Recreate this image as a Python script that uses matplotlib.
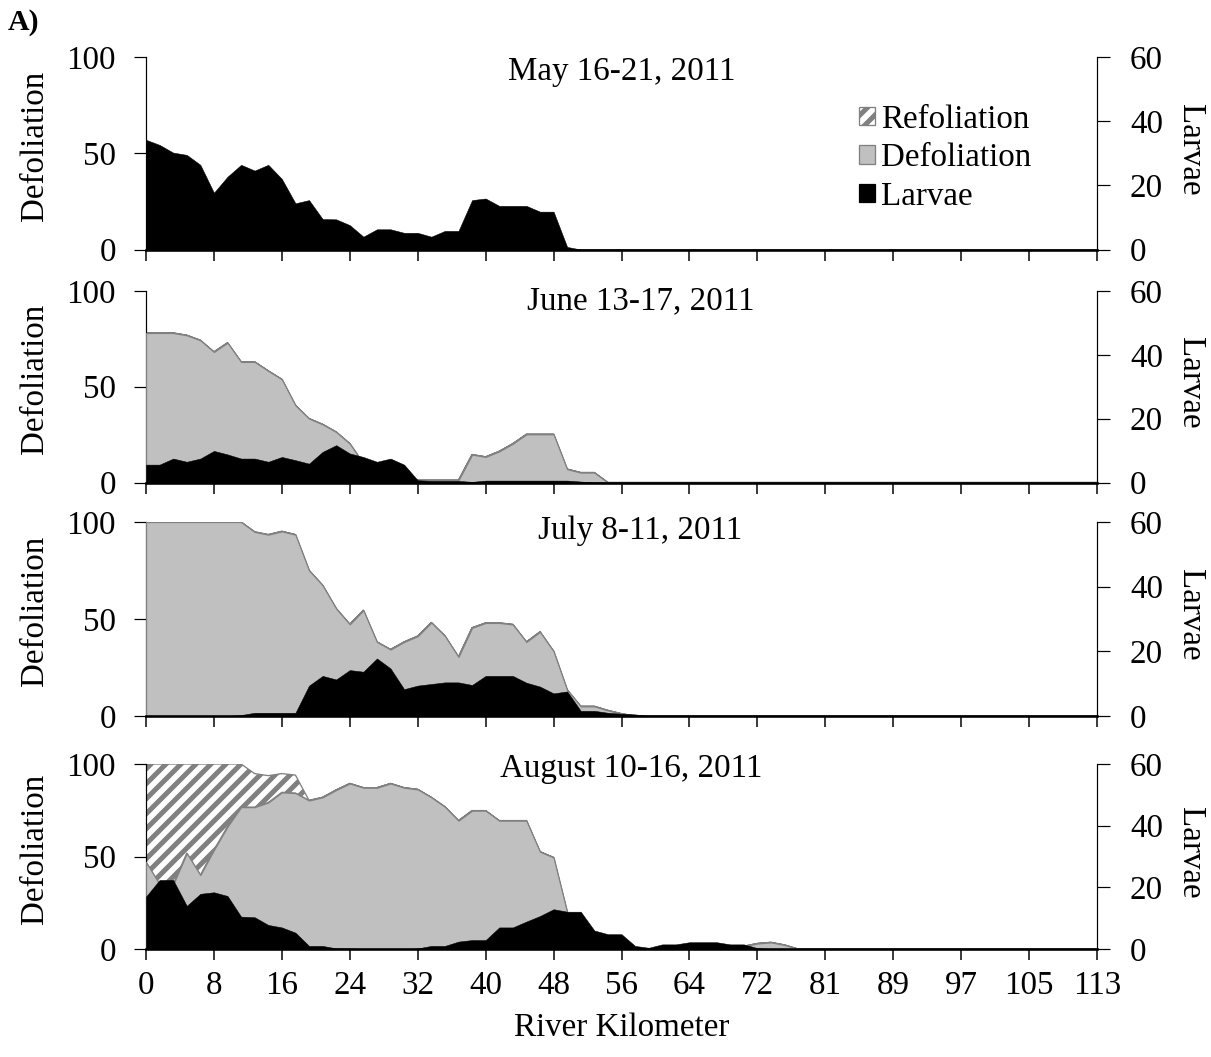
import matplotlib
matplotlib.use("Agg")
import matplotlib.pyplot as plt
import matplotlib.patches as mpatches

DPI = 90
W, H = 1211, 1057


def px(v):
    """Convert a size in output pixels to points."""
    return v * 72.0 / DPI


plt.rcParams["font.family"] = ["Liberation Serif", "DejaVu Serif"]
plt.rcParams["hatch.color"] = "#808080"
plt.rcParams["hatch.linewidth"] = px(5)

# ---- data: one survey point per river mile (0-70), labelled in kilometres ----
station = list(range(71))
tick_pos = [0, 5, 10, 15, 20, 25, 30, 35, 40, 45, 50, 55, 60, 65, 70]
tick_km = ["0", "8", "16", "24", "32", "40", "48", "56", "64", "72",
           "81", "89", "97", "105", "113"]

titles = ["May 16-21, 2011", "June 13-17, 2011", "July 8-11, 2011",
          "August 10-16, 2011"]

defol_may = [0] * 71
refol_may = [0] * 71
larvae_may = [34.2, 32.6, 30.2, 29.5, 26.4, 17.7, 22.7, 26.4, 24.6, 26.4,
              22.0, 14.4, 15.4, 9.5, 9.4, 7.6, 4.0, 6.3, 6.3, 5.2,
              5.2, 4.0, 5.8, 5.8, 15.4, 15.9, 13.6, 13.6, 13.6, 11.8,
              11.8, 0.8, 0, 0, 0, 0, 0, 0, 0, 0,
              0, 0, 0, 0, 0, 0, 0, 0, 0, 0,
              0, 0, 0, 0, 0, 0, 0, 0, 0, 0,
              0, 0, 0, 0, 0, 0, 0, 0, 0, 0, 0]

defol_jun = [78.1, 78.1, 78.1, 76.9, 74.3, 68.2, 73.0, 63.0, 63.0, 58.3,
             53.9, 40.3, 33.4, 30.4, 26.4, 20.3, 10.0, 5.0, 3.0, 2.0,
             1.2, 1.2, 1.2, 1.2, 14.6, 13.4, 16.3, 20.3, 25.2, 25.2,
             25.2, 7.0, 5.2, 5.2, 0, 0, 0, 0, 0, 0,
             0, 0, 0, 0, 0, 0, 0, 0, 0, 0,
             0, 0, 0, 0, 0, 0, 0, 0, 0, 0,
             0, 0, 0, 0, 0, 0, 0, 0, 0, 0, 0]
refol_jun = [0] * 71
larvae_jun = [5.6, 5.6, 7.5, 6.5, 7.5, 9.9, 8.8, 7.5, 7.5, 6.5,
              8.0, 7.0, 5.9, 9.6, 11.7, 9.1, 8.0, 6.5, 7.5, 5.6,
              0.7, 0.5, 0.5, 0.5, 0.2, 0.6, 0.6, 0.6, 0.6, 0.6,
              0.6, 0.6, 0.3, 0, 0, 0, 0, 0, 0, 0,
              0, 0, 0, 0, 0, 0, 0, 0, 0, 0,
              0, 0, 0, 0, 0, 0, 0, 0, 0, 0,
              0, 0, 0, 0, 0, 0, 0, 0, 0, 0, 0]

defol_jul = [100, 100, 100, 100, 100, 100, 100, 100, 94.9, 93.5,
             95.2, 93.5, 75.1, 67.4, 55.4, 47.3, 54.5, 38.2, 34.3, 38.2,
             41.2, 48.2, 41.3, 30.5, 45.5, 48.0, 48.0, 47.2, 38.2, 43.4,
             33.4, 13.5, 5.0, 5.0, 2.9, 1.2, 0, 0, 0, 0,
             0, 0, 0, 0, 0, 0, 0, 0, 0, 0,
             0, 0, 0, 0, 0, 0, 0, 0, 0, 0,
             0, 0, 0, 0, 0, 0, 0, 0, 0, 0, 0]
refol_jul = [0] * 71
larvae_jul = [0, 0, 0, 0, 0, 0, 0, 0.3, 1.0, 1.0,
              1.0, 1.0, 9.4, 12.4, 11.3, 14.2, 13.7, 17.8, 14.7, 8.3,
              9.4, 9.9, 10.4, 10.4, 9.6, 12.4, 12.4, 12.4, 10.3, 9.1,
              7.0, 7.6, 1.6, 1.6, 1.0, 0.7, 0.5, 0, 0, 0,
              0, 0, 0, 0, 0, 0, 0, 0, 0, 0,
              0, 0, 0, 0, 0, 0, 0, 0, 0, 0,
              0, 0, 0, 0, 0, 0, 0, 0, 0, 0, 0]

defol_aug = [47.0, 35.0, 35.0, 51.8, 40.0, 53.6, 66.2, 76.7, 76.7, 79.2,
             84.7, 84.3, 80.3, 82.0, 86.0, 89.5, 87.2, 87.2, 89.5, 87.2,
             86.3, 82.0, 76.9, 69.4, 74.8, 74.8, 69.4, 69.4, 69.4, 52.6,
             49.5, 20.0, 0, 0, 0, 0, 0, 0, 0, 0,
             0, 0, 0, 0, 1.5, 3.0, 3.6, 2.2, 0, 0,
             0, 0, 0, 0, 0, 0, 0, 0, 0, 0,
             0, 0, 0, 0, 0, 0, 0, 0, 0, 0, 0]
refol_aug = [53.0, 65.0, 65.0, 48.2, 60.0, 46.4, 33.8, 23.3, 18.1, 14.5,
             10.1, 9.7, 0, 0, 0, 0, 0, 0, 0, 0,
             0, 0, 0, 0, 0, 0, 0, 0, 0, 0,
             0, 0, 0, 0, 0, 0, 0, 0, 0, 0,
             0, 0, 0, 0, 0, 0, 0, 0, 0, 0,
             0, 0, 0, 0, 0, 0, 0, 0, 0, 0,
             0, 0, 0, 0, 0, 0, 0, 0, 0, 0, 0]
larvae_aug = [17.0, 22.4, 22.4, 14.0, 17.9, 18.4, 17.2, 10.5, 10.3, 7.8,
              7.0, 5.3, 1.0, 1.0, 0.2, 0.2, 0, 0, 0, 0,
              0.2, 1.0, 1.0, 2.4, 2.9, 2.9, 7.0, 7.0, 8.9, 10.7,
              12.9, 12.1, 12.1, 6.0, 4.8, 4.8, 1.0, 0.4, 1.5, 1.5,
              2.2, 2.2, 2.2, 1.5, 1.5, 0.3, 0, 0, 0, 0,
              0, 0, 0, 0, 0, 0, 0, 0, 0, 0,
              0, 0, 0, 0, 0, 0, 0, 0, 0, 0, 0]

surveys = [
    (defol_may, refol_may, larvae_may),
    (defol_jun, refol_jun, larvae_jun),
    (defol_jul, refol_jul, larvae_jul),
    (defol_aug, refol_aug, larvae_aug),
]

# ---- layout (pixel rows of each panel: top, bottom) ----
x_left, x_right = 146, 1097
rows = [(57, 249.5), (291, 482.5), (522, 716), (764, 949)]
title_dy = [15, 10, 9, 5]
title_x = [0.50, 0.52, 0.52, 0.51]

FS = px(33)
GRAY_FILL = "#c0c0c0"
GRAY_EDGE = "#808080"
HATCH = "//"

fig = plt.figure(figsize=(W / DPI, H / DPI), dpi=DPI)

for k, ((defol, refol, larvae), (top, bot)) in enumerate(zip(surveys, rows)):
    ax = fig.add_axes([x_left / W, 1 - bot / H, (x_right - x_left) / W,
                       (bot - top) / H])
    ax2 = ax.twinx()

    upper = [d + r for d, r in zip(defol, refol)]
    ax.fill_between(station, defol, upper, facecolor="white",
                    edgecolor=GRAY_EDGE, hatch=HATCH, linewidth=px(1.3),
                    zorder=2)
    ax.fill_between(station, 0, defol, facecolor=GRAY_FILL,
                    edgecolor=GRAY_EDGE, linewidth=px(1.3), zorder=3)
    ax2.fill_between(station, 0, larvae, facecolor="black",
                     edgecolor="black", linewidth=px(0.5), zorder=3)

    ax.set_xlim(0, 70)
    ax.set_ylim(0, 100)
    ax2.set_ylim(0, 60)
    ax.set_yticks([0, 50, 100])
    ax2.set_yticks([0, 20, 40, 60])
    ax.set_xticks(tick_pos)

    for a in (ax, ax2):
        a.spines["top"].set_visible(False)
        a.spines["left"].set_linewidth(px(1.2))
        a.spines["right"].set_linewidth(px(1.2))
        a.spines["bottom"].set_visible(False)
    ax.spines["right"].set_visible(False)
    ax2.spines["left"].set_visible(False)
    ax2.spines["bottom"].set_visible(True)
    ax2.spines["bottom"].set_linewidth(px(2.6))
    ax2.spines["bottom"].set_zorder(5)

    ax.tick_params(axis="y", direction="out", length=px(12), width=px(1.2),
                   pad=px(18), labelsize=FS)
    ax2.tick_params(axis="y", direction="out", length=px(13), width=px(1.2),
                    pad=px(20), labelsize=FS)
    ax.tick_params(axis="x", direction="out", length=px(11), width=px(1.5),
                   pad=px(10), labelsize=FS)
    ax2.tick_params(axis="x", which="both", bottom=False, labelbottom=False)
    if k == 3:
        ax.set_xticklabels(tick_km)
        ax.set_xlabel("River Kilometer", fontsize=FS, labelpad=px(12))
    else:
        ax.set_xticklabels([])

    ax.set_ylabel("Defoliation", fontsize=FS, va="center")
    ax.yaxis.set_label_coords((35 - x_left) / (x_right - x_left), 0.54)
    ax2.set_ylabel("Larvae", fontsize=FS, rotation=270, va="center")
    ax2.yaxis.set_label_coords((1190 - x_left) / (x_right - x_left), 0.52)

    ax.text(title_x[k], 1 - title_dy[k] / (bot - top), titles[k],
            transform=ax.transAxes, ha="center", va="center", fontsize=FS,
            zorder=10)

    if k == 0:
        handles = [
            mpatches.Patch(facecolor="white", edgecolor=GRAY_EDGE, hatch=HATCH,
                           linewidth=px(1.3), label="Refoliation"),
            mpatches.Patch(facecolor=GRAY_FILL, edgecolor=GRAY_EDGE,
                           linewidth=px(1.3), label="Defoliation"),
            mpatches.Patch(facecolor="black", edgecolor="black",
                           label="Larvae"),
        ]
        ax2.legend(handles=handles, loc="upper left",
                   bbox_to_anchor=((859 - x_left) / (x_right - x_left),
                                   1 - (104 - top) / (bot - top)),
                   frameon=False, fontsize=FS, handlelength=0.48,
                   handleheight=0.48, handletextpad=0.2, labelspacing=0.25,
                   borderpad=0, borderaxespad=0)

fig.text(8 / W, 1 - 22 / H, "A)", fontsize=px(30), fontweight="bold",
         ha="left", va="center")

fig.savefig("out.png", dpi=DPI)
